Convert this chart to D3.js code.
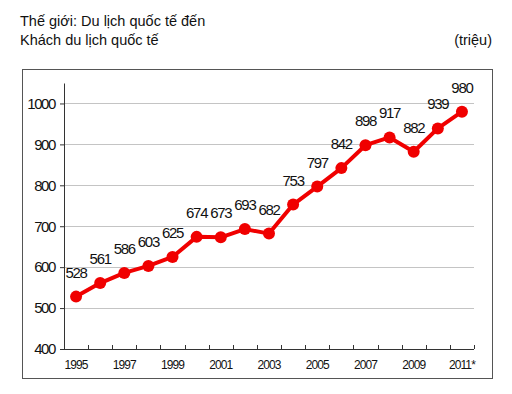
<!DOCTYPE html>
<html>
<head>
<meta charset="utf-8">
<script src="https://cdn.jsdelivr.net/npm/d3@7"></script>
<style>
  body { margin: 0; background: #fff; }
  svg text { font-family: "Liberation Sans", Arial, sans-serif; fill: #111; }
</style>
</head>
<body>
<svg id="chart" width="512" height="394"></svg>
<script>
const years = ["1995","1996","1997","1998","1999","2000","2001","2002","2003","2004","2005","2006","2007","2008","2009","2010","2011*"];
const arrivals = [528, 561, 586, 603, 625, 674, 673, 693, 682, 753, 797, 842, 898, 917, 882, 939, 980];
const yTicks = [400, 500, 600, 700, 800, 900, 1000];
const xLabels = ["1995","1997","1999","2001","2003","2005","2007","2009","2011*"];

const svg = d3.select("#chart");
const margin = {top: 83, left: 64, right: 38, bottom: 45};
const width = 512 - margin.left - margin.right;   // 410
const height = 394 - margin.top - margin.bottom;

// titles
svg.append("text").attr("x", 20).attr("y", 26).style("font-size", "14.5px")
   .text("Thế giới: Du lịch quốc tế đến");
svg.append("text").attr("x", 20).attr("y", 45).style("font-size", "14.5px")
   .text("Khách du lịch quốc tế");
svg.append("text").attr("x", 492).attr("y", 45).attr("text-anchor", "end").style("font-size", "14.5px")
   .text("(triệu)");

// outer frame
svg.append("rect").attr("x", 22.5).attr("y", 69.5).attr("width", 470).attr("height", 309)
   .attr("fill", "none").attr("stroke", "#555").attr("stroke-width", 1);

const g = svg.append("g").attr("transform", `translate(${margin.left},${margin.top})`);

const x = d3.scaleBand().domain(years).range([0, width]);
const y = d3.scaleLinear().domain([400, 1050]).range([height, 0]);

// gridlines
g.append("g").attr("class", "grid")
 .selectAll("line").data(yTicks.filter(d => d > 400)).join("line")
 .attr("x1", 0).attr("x2", width)
 .attr("y1", d => Math.round(y(d)) + 0.5).attr("y2", d => Math.round(y(d)) + 0.5)
 .attr("stroke", "#c4c4c4").attr("stroke-width", 1);

// y axis
const yAxis = g.append("g")
  .call(d3.axisLeft(y).tickValues(yTicks).tickFormat(d3.format("d")).tickSize(4).tickPadding(5).tickSizeOuter(0));
yAxis.select(".domain").attr("stroke", "#333");
yAxis.selectAll(".tick line").attr("stroke", "#333");
yAxis.selectAll("text").style("font-size", "15px").style("letter-spacing", "-1.4px")
     .style("font-family", "'Liberation Sans', Arial, sans-serif");

// x axis: ticks at band boundaries, pointing up
const xAxisG = g.append("g").attr("transform", `translate(0,${height})`);
xAxisG.append("line").attr("x1", 0).attr("x2", width).attr("y1", 0.5).attr("y2", 0.5).attr("stroke", "#333");
const bounds = years.map(d => x(d)).concat([width]);
xAxisG.selectAll("line.tk").data(bounds).join("line").attr("class", "tk")
  .attr("x1", d => Math.round(d) + 0.5).attr("x2", d => Math.round(d) + 0.5)
  .attr("y1", 0).attr("y2", -4).attr("stroke", "#333");
xAxisG.selectAll("text").data(xLabels).join("text")
  .attr("x", d => x(d) + x.bandwidth() / 2)
  .attr("y", 20)
  .attr("text-anchor", "middle")
  .style("font-size", "12px").style("letter-spacing", "-0.9px")
  .text(d => d);

// line
const cx = d => x(d) + x.bandwidth() / 2;
const pts = years.map((d, i) => [cx(d), y(arrivals[i])]);
g.append("path").datum(pts)
 .attr("d", d3.line())
 .attr("fill", "none").attr("stroke", "#f00000").attr("stroke-width", 4)
 .attr("stroke-linejoin", "round");

g.selectAll("circle").data(pts).join("circle")
 .attr("cx", d => d[0]).attr("cy", d => d[1]).attr("r", 6)
 .attr("fill", "#f00000");

// data labels
g.selectAll("text.lbl").data(pts).join("text").attr("class", "lbl")
 .attr("x", d => d[0]).attr("y", d => d[1] - 19)
 .attr("text-anchor", "middle")
 .style("font-size", "15px").style("letter-spacing", "-1.3px")
 .text((d, i) => arrivals[i]);
</script>
</body>
</html>
